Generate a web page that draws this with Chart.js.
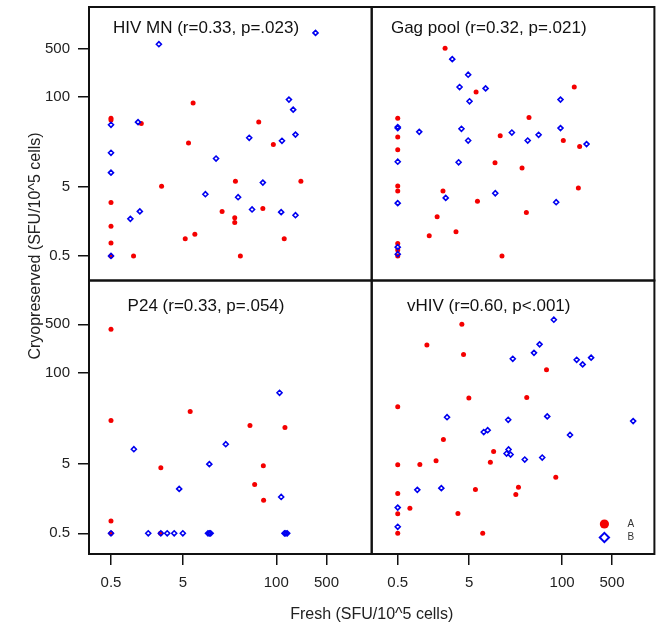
<!DOCTYPE html>
<html>
<head>
<meta charset="utf-8">
<title>Fresh vs Cryopreserved</title>
<script src="https://cdn.jsdelivr.net/npm/chart.js@4/dist/chart.umd.min.js"></script>
<style>
  html, body { margin: 0; padding: 0; background: #fff; }
  #wrap { width: 660px; height: 632px; }
</style>
</head>
<body>
<div id="wrap"><canvas id="chart" width="660" height="632"></canvas></div>
<script>
// ── DATA ──
const tickValues = [0.5, 5, 100, 500]
const tickLabels = ['0.5', '5', '100', '500']
const groupNames = ['A', 'B']
const panelTitles = ['HIV MN (r=0.33, p=.023)', 'Gag pool (r=0.32, p=.021)', 'P24 (r=0.33, p=.054)', 'vHIV (r=0.60, p<.001)']

// [fresh, cryopreserved]
const hivmnA = [[0.5,49],[0.5,46],[1.32,41],[6.95,81],[6.0,21.4],[57,43],[91,20.4],[2.53,5.1],[27,6.0],[220,6.0],[0.5,2.96],[17.6,2.2],[65,2.43],[26.4,1.78],[26.4,1.52],[0.5,1.34],[0.5,0.77],[5.4,0.89],[7.35,1.03],[129,0.89],[1.03,0.5],[31.6,0.5],[0.5,0.5]]
const hivmnB = [[2.32,574],[352,836],[0.5,39.3],[1.19,42.9],[0.5,15.5],[0.5,8.0],[150,91],[172,65],[185,28.4],[42,25.5],[120,23.1],[14.5,12.8],[65,5.74],[10.3,3.9],[29.4,3.53],[46,2.35],[117,2.15],[185,1.94],[1.26,2.2],[0.93,1.72],[0.5,0.5]]

const gagA = [[2.3,502],[6.25,117],[148,138],[34.4,50],[0.5,49],[0.5,26.1],[0.5,17.1],[13.6,27.2],[104,23.3],[176,19.1],[11.5,11.1],[27.5,9.3],[0.5,5.14],[0.5,4.35],[2.15,4.35],[169,4.8],[6.53,3.09],[31.6,2.12],[1.78,1.84],[3.27,1.12],[1.38,0.98],[14.4,0.5],[0.5,0.76],[0.5,0.61],[0.5,0.5]]
const gagB = [[2.9,349],[4.84,208],[3.67,138],[8.5,132],[5.06,86],[95,91],[0.5,35.2],[0.5,36.5],[1.0,31.1],[3.9,34.4],[4.84,23.3],[19.8,30.4],[33,23.3],[46.9,28.2],[95,35.2],[220,20.7],[0.5,11.5],[3.56,11.3],[11.6,4.03],[2.35,3.45],[82.6,2.99],[0.5,2.9],[0.5,0.67],[0.5,0.53]]

const p24A = [[0.5,424],[0.5,20.8],[6.33,28],[43,17.7],[132,16.5],[2.47,4.35],[66,4.65],[50,2.5],[66.6,1.49],[0.5,0.75],[0.5,0.5],[2.45,0.5]]
const p24B = [[111,52],[1.04,8.05],[19.8,9.5],[11.7,4.91],[4.45,2.17],[117,1.66],[0.5,0.5],[1.65,0.5],[2.47,0.5],[3.03,0.5],[3.79,0.5],[5.0,0.5],[11.2,0.5],[11.7,0.5],[12.2,0.5],[130,0.5],[136,0.5],[142,0.5]]

const vhivA = [[3.95,500],[1.28,252],[4.17,185],[60.5,111],[4.95,43.7],[32,44.6],[0.5,32.7],[2.18,11.1],[11,7.46],[1.72,5.48],[1.02,4.85],[0.5,4.8],[9.9,5.25],[81.6,3.19],[6.12,2.12],[24.5,2.29],[22.5,1.8],[0.5,1.86],[0.74,1.14],[0.5,0.95],[3.48,0.96],[0.5,0.5],[7.74,0.5]]
const vhivB = [[76.6,583],[48.4,258],[40.4,195],[20.4,160],[160,155],[194,133],[255,166],[2.45,23.2],[17.6,21.3],[62,23.8],[988,20.4],[8.0,14.2],[9.08,15.1],[129,12.9],[17.8,7.98],[16.7,6.98],[19,6.76],[30,5.73],[52.7,6.12],[0.94,2.1],[2.04,2.22],[0.5,1.17],[0.5,0.62]]

// ── CONFIG ──
// axis limits per panel column / row
const LIMITS = {
  xL: [0.247, 2130],
  xR: [0.216, 1960],
  yT: [0.221, 1980],
  yB: [0.252, 2130]
}
const FONT = '"Liberation Sans", Arial, Helvetica, sans-serif'
const RED = '#f40000'
const BLUE = '#0000f0'
const INK = '#111'

const panels = [
  { x: 'xL', y: 'yT', a: hivmnA, b: hivmnB, title: panelTitles[0], dy: 26 },
  { x: 'xR', y: 'yT', a: gagA, b: gagB, title: panelTitles[1], dy: 26 },
  { x: 'xL', y: 'yB', a: p24A, b: p24B, title: panelTitles[2], dy: 30 },
  { x: 'xR', y: 'yB', a: vhivA, b: vhivB, title: panelTitles[3], dy: 30 }
]

const styleA = { pointStyle: 'circle', pointRadius: 2.5, backgroundColor: RED, borderColor: RED, borderWidth: 0 }
const styleB = { pointStyle: 'rectRot', pointRadius: 2.5, backgroundColor: 'rgba(0,0,0,0)', borderColor: BLUE, borderWidth: 1.6 }

const toPts = arr => arr.map(p => ({ x: p[0], y: p[1] }))

// B drawn on top of A, so it goes first
const datasets = []
panels.forEach(p => {
  datasets.push({ label: groupNames[1], data: toPts(p.b), xAxisID: p.x, yAxisID: p.y, ...styleB })
  datasets.push({ label: groupNames[0], data: toPts(p.a), xAxisID: p.x, yAxisID: p.y, ...styleA })
})

function logAxis(id, position, weight) {
  const axis = id[0]
  return {
    type: 'logarithmic',
    axis,
    position,
    stack: axis,
    stackWeight: 1,
    weight,
    min: LIMITS[id][0],
    max: LIMITS[id][1],
    afterBuildTicks: s => { s.ticks = tickValues.map(v => ({ value: v })) },
    afterFit: s => {
      if (axis === 'y') s.width = 89; else s.height = 78
      // no extra room for the end labels, the frame sets the area
      s.paddingTop = 0; s.paddingBottom = 0; s.paddingLeft = 0; s.paddingRight = 0
    },
    ticks: {
      callback: (v, i) => tickLabels[i],
      font: { family: FONT, size: 15 },
      color: '#222',
      padding: axis === 'y' ? 8 : 9,
      autoSkip: false,
      maxRotation: 0,
      minRotation: 0
    },
    grid: { drawOnChartArea: false, drawTicks: true, tickLength: 11, color: INK, lineWidth: 1.5 },
    border: { display: false }
  }
}

// ── FRAME, TITLES, LEGEND ──
const panelPlugin = {
  id: 'panels',
  afterDraw(chart) {
    const ctx = chart.ctx
    const area = chart.chartArea
    ctx.save()

    ctx.strokeStyle = INK
    ctx.lineWidth = 2
    panels.forEach(p => {
      const xs = chart.scales[p.x], ys = chart.scales[p.y]
      ctx.strokeRect(xs.left, ys.top, xs.right - xs.left, ys.bottom - ys.top)
    })

    ctx.fillStyle = INK
    ctx.textAlign = 'center'
    ctx.textBaseline = 'alphabetic'
    ctx.font = '17px ' + FONT
    panels.forEach(p => {
      const xs = chart.scales[p.x], ys = chart.scales[p.y]
      ctx.fillText(p.title, xs.left + (xs.right - xs.left) * 0.414, ys.top + p.dy)
    })

    // axis titles
    ctx.font = '16px ' + FONT
    ctx.fillStyle = '#222'
    ctx.textBaseline = 'middle'
    ctx.fillText('Fresh (SFU/10^5 cells)', (area.left + area.right) / 2, 615)
    ctx.save()
    ctx.translate(36, 246)
    ctx.rotate(-Math.PI / 2)
    ctx.fillText('Cryopreserved (SFU/10^5 cells)', 0, 0)
    ctx.restore()

    // legend in the last panel
    const lx = chart.scales.xR.right - 50
    const ly = chart.scales.yB.bottom - 30
    const marks = [
      { style: 'circle', fill: RED, stroke: RED, bw: 0 },
      { style: 'rectRot', fill: 'rgba(0,0,0,0)', stroke: BLUE, bw: 2 }
    ]
    ctx.font = '10px ' + FONT
    marks.forEach((m, i) => {
      const y = ly + i * 13.5
      ctx.fillStyle = m.fill
      ctx.strokeStyle = m.stroke
      ctx.lineWidth = m.bw
      Chart.helpers.drawPoint(ctx, { pointStyle: m.style, radius: 4.6, borderWidth: m.bw }, lx, y)
      ctx.fillStyle = '#333'
      ctx.fillText(groupNames[i], lx + 26.5, y)
    })

    ctx.restore()
  }
}

// ── CHART ──
new Chart(document.getElementById('chart'), {
  type: 'scatter',
  data: { datasets },
  options: {
    responsive: false,
    devicePixelRatio: 1,
    animation: false,
    layout: { padding: { top: 7, right: 3, left: 0, bottom: 0 } },
    scales: {
      yT: logAxis('yT', 'left', 2),
      yB: logAxis('yB', 'left', 1),
      xL: logAxis('xL', 'bottom', 1),
      xR: logAxis('xR', 'bottom', 2)
    },
    plugins: {
      legend: { display: false },
      tooltip: { enabled: false }
    }
  },
  plugins: [panelPlugin]
})
</script>
</body>
</html>
